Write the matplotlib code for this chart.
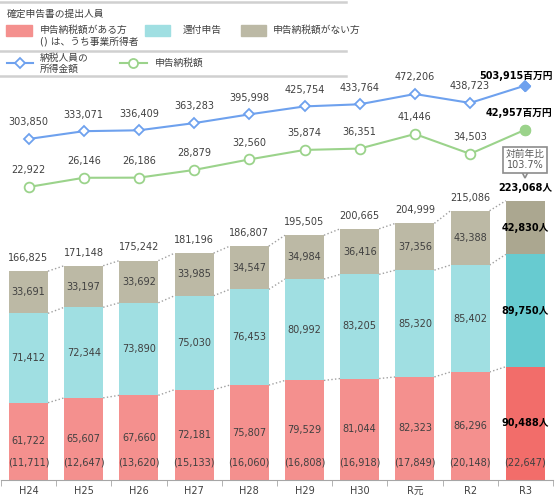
import numpy as np
import matplotlib
matplotlib.use('Agg')
from matplotlib import pyplot as plt
from matplotlib.patches import Rectangle
import matplotlib.transforms as mtransforms

plt.rcParams['font.family'] = ['DejaVu Sans', 'Noto Sans CJK JP']

years = ['H24', 'H25', 'H26', 'H27', 'H28', 'H29', 'H30', 'R元', 'R2', 'R3']
tax_pay = [61722, 65607, 67660, 72181, 75807, 79529, 81044, 82323, 86296, 90488]
biz = [11711, 12647, 13620, 15133, 16060, 16808, 16918, 17849, 20148, 22647]
refund = [71412, 72344, 73890, 75030, 76453, 80992, 83205, 85320, 85402, 89750]
no_tax = [33691, 33197, 33692, 33985, 34547, 34984, 36416, 37356, 43388, 42830]
total = [166825, 171148, 175242, 181196, 186807, 195505, 200665, 204999, 215086, 223068]
income = [303850, 333071, 336409, 363283, 395998, 425754, 433764, 472206, 438723, 503915]
tax_amt = [22922, 26146, 26186, 28879, 32560, 35874, 36351, 41446, 34503, 42957]

red, red3 = '#F4908E', '#F26D6A'
teal, teal3 = '#A0DFE2', '#67CBD0'
grey, grey3 = '#BCB9A5', '#ABA790'
blue, green = '#6EA1EE', '#9BD38B'
txt = '#404040'

fig = plt.figure(figsize=(5.57, 4.97), dpi=100)
ax = fig.add_axes([0.9 / 557, 17 / 497, 552 / 557, 480 / 497])

x = np.arange(len(years))
w = 0.706
n = len(years)
c_red = [red] * (n - 1) + [red3]
c_teal = [teal] * (n - 1) + [teal3]
c_grey = [grey] * (n - 1) + [grey3]

b1 = np.array(tax_pay)
b2 = b1 + np.array(refund)
b3 = b2 + np.array(no_tax)
ax.bar(x, tax_pay, w, color=c_red, zorder=2)
ax.bar(x, refund, w, bottom=b1, color=c_teal, zorder=2)
ax.bar(x, no_tax, w, bottom=b2, color=c_grey, zorder=2)

# dotted connectors between bars
for lev in (b1, b2, b3):
    for i in range(n - 1):
        ax.plot([x[i] + w / 2, x[i + 1] - w / 2], [lev[i], lev[i + 1]],
                ls=':', color='#A0A0A0', lw=1, zorder=1)

for i in range(n):
    bold = (i == n - 1)
    fw = 'bold' if bold else 'normal'
    col = 'black' if bold else txt
    suf = '人' if bold else ''
    ax.text(x[i], tax_pay[i] / 2, f'{tax_pay[i]:,}{suf}', ha='center', va='center',
            fontsize=7, color=col, fontweight=fw, zorder=3)
    ax.text(x[i], 13900, f'({biz[i]:,})', ha='center', va='center',
            fontsize=7, color=txt, zorder=3)
    ax.text(x[i], b1[i] + refund[i] / 2, f'{refund[i]:,}{suf}', ha='center', va='center',
            fontsize=7, color=col, fontweight=fw, zorder=3)
    ax.text(x[i], b2[i] + no_tax[i] / 2, f'{no_tax[i]:,}{suf}', ha='center', va='center',
            fontsize=7, color=col, fontweight=fw, zorder=3)
    ax.annotate(f'{total[i]:,}{suf}', xy=(x[i], total[i]), xytext=(0, 9.5),
                textcoords='offset points', ha='center', va='center',
                fontsize=7, color=col, fontweight=fw)

# callout
ax.annotate('対前年比\n103.7%', xy=(x[-1], total[-1]), xytext=(0, 29.5),
            textcoords='offset points', ha='center', va='center', fontsize=7,
            color='#595959', linespacing=1.1,
            bbox=dict(boxstyle='square,pad=0.25', fc='white', ec='#8C8C8C', lw=1.2))
tr = mtransforms.offset_copy(ax.transData, fig=fig, x=0, y=19.5, units='points')
ax.plot([x[-1]], [total[-1]], marker='v', ms=6, mfc='white', mec='#8C8C8C', mew=1.2,
        transform=tr, clip_on=False)

ax.set_xlim(-0.5, 9.5)
ax.set_ylim(0, 383400)
ax.set_yticks([])
for s in ('left', 'right', 'top'):
    ax.spines[s].set_visible(False)
ax.spines['bottom'].set_color('#A6A6A6')
ax.set_xticks(x)
ax.set_xticklabels(years, fontsize=7, color=txt)
ax.tick_params(axis='x', which='major', length=0, pad=4.5)
ax.set_xticks(np.arange(-0.5, 10, 1), minor=True)
ax.tick_params(axis='x', which='minor', length=4, color='#A6A6A6')
ax.patch.set_visible(False)

# lines
ax2 = ax.twinx()
ax2.set_ylim(-971850, 823850)
ax2.plot(x, income, color=blue, lw=1.5, marker='D', ms=5.5, mfc='white', mec=blue, mew=1.3)
ax2.plot(x[-1:], income[-1:], ls='', marker='D', ms=5.5, mfc=blue, mec=blue)
for i in range(n - 1):
    ax2.annotate(f'{income[i]:,}', xy=(x[i], income[i]), xytext=(0, 12),
                 textcoords='offset points', ha='center', va='center', fontsize=7, color=txt)
ax2.annotate(f'{income[-1]:,}百万円', xy=(x[-1], income[-1]), xytext=(20, 6.5),
             textcoords='offset points', ha='right', va='center', fontsize=7,
             color='black', fontweight='bold')

ax3 = ax.twinx()
ax3.set_ylim(-79490, 88283)
ax3.plot(x, tax_amt, color=green, lw=1.5, marker='o', ms=7, mfc='white', mec=green, mew=1.3)
ax3.plot(x[-1:], tax_amt[-1:], ls='', marker='o', ms=7, mfc=green, mec=green)
for i in range(n - 1):
    ax3.annotate(f'{tax_amt[i]:,}', xy=(x[i], tax_amt[i]), xytext=(0, 12),
                 textcoords='offset points', ha='center', va='center', fontsize=7, color=txt)
ax3.annotate(f'{tax_amt[-1]:,}百万円', xy=(x[-1], tax_amt[-1]), xytext=(19.5, 12),
             textcoords='offset points', ha='right', va='center', fontsize=7,
             color='black', fontweight='bold')

for a in (ax2, ax3):
    a.set_axis_off()

# legend panel
lg = fig.add_axes([0, 0, 1, 1])
lg.set_xlim(0, 557)
lg.set_ylim(497, 0)
lg.set_axis_off()
for yy in (2, 51, 76):
    lg.plot([0, 346], [yy, yy], color='#D0D0D0', lw=1.8)
lg.text(7, 14, '確定申告書の提出人員', fontsize=7, color=txt, va='center')
lg.add_patch(Rectangle((6, 25), 26, 11, color=red))
lg.text(40, 30, '申告納税額がある方', fontsize=7, color=txt, va='center')
lg.text(40, 41, '() は、うち事業所得者', fontsize=7, color=txt, va='center')
lg.add_patch(Rectangle((145, 25), 25, 11, color=teal))
lg.text(183, 30, '還付申告', fontsize=7, color=txt, va='center')
lg.add_patch(Rectangle((241, 25), 25, 11, color=grey))
lg.text(273, 30, '申告納税額がない方', fontsize=7, color=txt, va='center')
lg.plot([7, 33], [63, 63], color=blue, lw=1.5)
lg.plot([20], [63], marker='D', ms=5, mfc='white', mec=blue, mew=1.3)
lg.text(40, 58, '納税人員の', fontsize=7, color=txt, va='center')
lg.text(40, 69, '所得金額', fontsize=7, color=txt, va='center')
lg.plot([120, 147], [63, 63], color=green, lw=1.5)
lg.plot([133], [63], marker='o', ms=6.5, mfc='white', mec=green, mew=1.3)
lg.text(155, 63, '申告納税額', fontsize=7, color=txt, va='center')

fig.savefig('out.png', dpi=100)
